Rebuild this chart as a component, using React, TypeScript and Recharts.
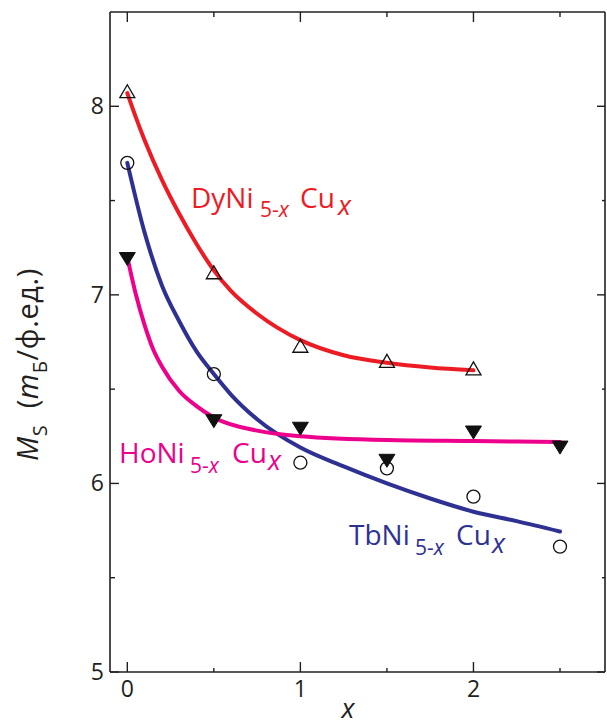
import React from 'react';
import { ComposedChart, Line, Scatter, XAxis, YAxis } from 'recharts';

// measured points
const dyX = [0, 0.5, 1, 1.5, 2];
const dyMs = [8.08, 7.12, 6.73, 6.65, 6.61];
const tbX = [0, 0.5, 1, 1.5, 2, 2.5];
const tbMs = [7.7, 6.58, 6.11, 6.08, 5.93, 5.665];
const hoX = [0, 0.5, 1, 1.5, 2, 2.5];
const hoMs = [7.19, 6.33, 6.29, 6.12, 6.27, 6.19];

// fitted curves
const dyFitX = [0, 0.05, 0.1, 0.2, 0.3, 0.4, 0.5, 0.6, 0.75, 1.0, 1.25, 1.5, 1.75, 2.0];
const dyFitMs = [8.07, 7.94, 7.82, 7.61, 7.43, 7.27, 7.13, 7.02, 6.9, 6.76, 6.68, 6.64, 6.615, 6.6];
const tbFitX = [0, 0.1, 0.2, 0.3, 0.4, 0.5, 0.6, 0.75, 1.0, 1.25, 1.5, 1.75, 2.0, 2.25, 2.5];
const tbFitMs = [7.7, 7.33, 7.05, 6.86, 6.7, 6.58, 6.47, 6.34, 6.19, 6.09, 6.0, 5.92, 5.85, 5.8, 5.745];
const hoFitX = [0, 0.05, 0.1, 0.15, 0.2, 0.3, 0.4, 0.5, 0.75, 1.0, 1.5, 2.0, 2.5];
const hoFitMs = [7.2, 7.0, 6.84, 6.71, 6.62, 6.49, 6.41, 6.35, 6.28, 6.25, 6.23, 6.225, 6.22];

const xTicks = [0, 0.5, 1, 1.5, 2, 2.5];
const yTicks = [5, 5.5, 6, 6.5, 7, 7.5, 8];
const xDomain = [-0.1, 2.76];
const yDomain = [5, 8.5];

const RED = '#ed1c24';
const BLUE = '#2e3192';
const MAGENTA = '#ec008c';
const AXIS = '#231f20';
const FONT = '"Open Sans", sans-serif';

const toRows = (xs: number[], ys: number[]) => xs.map((x, i) => ({ x, y: ys[i] }));

const isMajor = (v: number) => Math.abs(v - Math.round(v)) < 1e-6;

const BottomTick = (p: any) => {
  const v = p.payload.value;
  const major = isMajor(v);
  return (
    <g>
      <line x1={p.x} x2={p.x} y1={p.y} y2={p.y - (major ? 10 : 4)} stroke={AXIS} strokeWidth={1.4} />
      {major && (
        <text x={p.x} y={p.y + 25} textAnchor="middle" fontFamily={FONT} fontSize={23} fill={AXIS}>
          {v}
        </text>
      )}
    </g>
  );
};
const TopTick = (p: any) => {
  const major = isMajor(p.payload.value);
  return <line x1={p.x} x2={p.x} y1={p.y} y2={p.y + (major ? 10 : 5)} stroke={AXIS} strokeWidth={1.4} />;
};
const LeftTick = (p: any) => {
  const v = p.payload.value;
  const major = isMajor(v);
  return (
    <g>
      <line x1={p.x} x2={p.x + (major ? 9 : 5)} y1={p.y} y2={p.y} stroke={AXIS} strokeWidth={1.4} />
      {major && (
        <text x={p.x - 6} y={p.y + 8} textAnchor="end" fontFamily={FONT} fontSize={23} fill={AXIS}>
          {v}
        </text>
      )}
    </g>
  );
};
const RightTick = (p: any) => {
  const major = isMajor(p.payload.value);
  return <line x1={p.x} x2={p.x - (major ? 8 : 3)} y1={p.y} y2={p.y} stroke={AXIS} strokeWidth={1.4} />;
};

const OpenTriangle = (p: any) => {
  const { cx, cy } = p;
  const w = 7.5, h = 13;
  return <path d={`M${cx},${cy - h / 2} L${cx + w},${cy + h / 2} L${cx - w},${cy + h / 2} Z`} fill="none" stroke="#111" strokeWidth={1.3} />;
};
const OpenCircle = (p: any) => <circle cx={p.cx} cy={p.cy} r={6.5} fill="none" stroke="#111" strokeWidth={1.3} />;
const DownTriangle = (p: any) => {
  const { cx, cy } = p;
  const w = 8, h = 13;
  return <path d={`M${cx - w},${cy - h / 2} L${cx + w},${cy - h / 2} L${cx},${cy + h / 2} Z`} fill="#111" stroke="#111" strokeWidth={1} />;
};

const lbl = { fontFamily: FONT } as const;

export default function App() {
  return (
    <div style={{ position: 'absolute', left: 0, top: 0, width: 607, height: 727, background: '#fff' }}>
      <ComposedChart width={607} height={727} margin={{ top: 11, right: 1, bottom: 0, left: 0 }}>
        <XAxis xAxisId="b" type="number" dataKey="x" domain={xDomain} ticks={xTicks} interval={0}
          orientation="bottom" height={55} tickSize={0} tickMargin={0} tickLine={false}
          axisLine={{ stroke: AXIS, strokeWidth: 1.6 }} tick={(p: any) => <BottomTick {...p} />} allowDataOverflow />
        <XAxis xAxisId="t" type="number" dataKey="x" domain={xDomain} ticks={xTicks} interval={0}
          orientation="top" height={1} tickSize={0} tickMargin={0} tickLine={false}
          axisLine={{ stroke: AXIS, strokeWidth: 1.6 }} tick={(p: any) => <TopTick {...p} />} allowDataOverflow />
        <YAxis yAxisId="l" type="number" domain={yDomain} ticks={yTicks} interval={0}
          orientation="left" width={110} tickSize={0} tickMargin={0} tickLine={false}
          axisLine={{ stroke: AXIS, strokeWidth: 1.6 }} tick={(p: any) => <LeftTick {...p} />} allowDataOverflow />
        <YAxis yAxisId="r" type="number" domain={yDomain} ticks={yTicks} interval={0}
          orientation="right" width={1} tickSize={0} tickMargin={0} tickLine={false}
          axisLine={{ stroke: AXIS, strokeWidth: 1.6 }} tick={(p: any) => <RightTick {...p} />} allowDataOverflow />

        <Line xAxisId="t" yAxisId="r" data={toRows(hoX, hoMs)} dataKey="y" stroke="none" dot={false} isAnimationActive={false} />

        <Scatter xAxisId="b" yAxisId="l" data={toRows(dyX, dyMs)} dataKey="y" shape={OpenTriangle} isAnimationActive={false} />
        <Scatter xAxisId="b" yAxisId="l" data={toRows(tbX, tbMs)} dataKey="y" shape={OpenCircle} isAnimationActive={false} />
        <Scatter xAxisId="b" yAxisId="l" data={toRows(hoX, hoMs)} dataKey="y" shape={DownTriangle} isAnimationActive={false} />

        <Line xAxisId="b" yAxisId="l" type="monotone" data={toRows(tbFitX, tbFitMs)} dataKey="y" stroke={BLUE} strokeWidth={4} strokeLinecap="round" dot={false} isAnimationActive={false} />
        <Line xAxisId="b" yAxisId="l" type="monotone" data={toRows(hoFitX, hoFitMs)} dataKey="y" stroke={MAGENTA} strokeWidth={4} strokeLinecap="round" dot={false} isAnimationActive={false} />
        <Line xAxisId="b" yAxisId="l" type="monotone" data={toRows(dyFitX, dyFitMs)} dataKey="y" stroke={RED} strokeWidth={4} strokeLinecap="round" dot={false} isAnimationActive={false} />
      </ComposedChart>

      <svg width={607} height={727} style={{ position: 'absolute', left: 0, top: 0, pointerEvents: 'none' }}>
        <g fill={RED} style={lbl}>
          <text x={191} y={208} fontSize={28}>DyNi</text>
          <text x={260} y={217} fontSize={21}>5-<tspan fontStyle="italic">x</tspan></text>
          <text x={300} y={208} fontSize={28}>Cu</text>
          <text x={338} y={215} fontSize={27} fontStyle="italic">x</text>
        </g>
        <g fill={MAGENTA} style={lbl}>
          <text x={119} y={463} fontSize={28}>HoNi</text>
          <text x={190} y={473} fontSize={21}>5-<tspan fontStyle="italic">x</tspan></text>
          <text x={232} y={463} fontSize={28}>Cu</text>
          <text x={268} y={470} fontSize={27} fontStyle="italic">x</text>
        </g>
        <g fill={BLUE} style={lbl}>
          <text x={349} y={545} fontSize={28}>TbNi</text>
          <text x={415} y={555} fontSize={21}>5-<tspan fontStyle="italic">x</tspan></text>
          <text x={456} y={545} fontSize={28}>Cu</text>
          <text x={492} y={553} fontSize={27} fontStyle="italic">x</text>
        </g>
        <text transform="translate(38,461) rotate(-90)" fill={AXIS} style={lbl} fontSize={29} letterSpacing={0.6}>
          <tspan fontStyle="italic">M</tspan>
          <tspan fontSize={20} dy={9}>S</tspan>
          <tspan dy={-9}>{'\u00a0\u00a0('}</tspan>
          <tspan fontStyle="italic">m</tspan>
          <tspan fontSize={20} dy={9}>Б</tspan>
          <tspan dy={-9}>/ф.ед.)</tspan>
        </text>
        <text x={348} y={718} textAnchor="middle" fill={AXIS} style={lbl} fontSize={27} fontStyle="italic">x</text>
      </svg>
    </div>
  );
}
